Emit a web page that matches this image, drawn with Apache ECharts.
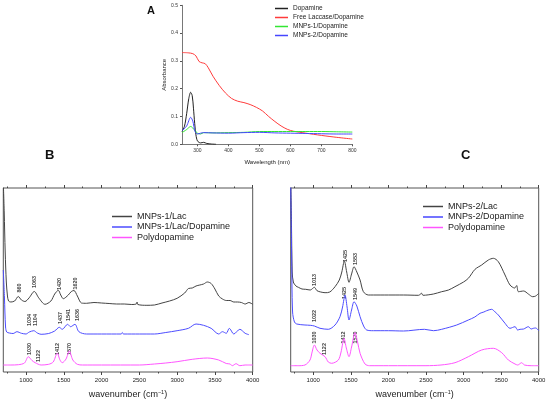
<!DOCTYPE html>
<html>
<head>
<meta charset="utf-8">
<title>UV-Vis and FTIR spectra</title>
<script src="https://cdn.jsdelivr.net/npm/echarts@6/dist/echarts.min.js"></script>
<style>html,body{margin:0;padding:0;background:#fff;}</style>
</head>
<body>
<div id="main" style="width:550px;height:404px;"></div>
<script type="text/javascript">
// panel A: UV-Vis, [wavelength nm, absorbance]
var dopamineA = [[250,0.046],[258,0.065],[265,0.11],[272,0.165],[278,0.187],[283,0.175],[287,0.13],[291,0.075],[295,0.034],[300,0.012],[310,0.005],[320,0.007],[330,0.003],[345,0.001],[360,0]];
var laccaseA = [[250,0.33],[270,0.329],[285,0.326],[295,0.318],[305,0.298],[315,0.293],[325,0.29],[335,0.275],[350,0.245],[370,0.212],[390,0.185],[410,0.165],[430,0.155],[450,0.15],[470,0.143],[490,0.133],[510,0.12],[530,0.1],[550,0.082],[570,0.066],[590,0.054],[610,0.047],[650,0.04],[700,0.032],[750,0.025],[800,0.019]];
var mnps1A = [[250,0.042],[265,0.053],[278,0.064],[290,0.052],[300,0.04],[310,0.037],[320,0.042],[350,0.041],[400,0.042],[450,0.043],[500,0.046],[550,0.046],[600,0.046],[650,0.046],[700,0.046],[750,0.045],[800,0.044]];
var mnps2A = [[250,0.049],[265,0.066],[278,0.097],[285,0.083],[292,0.046],[300,0.037],[310,0.04],[320,0.042],[350,0.041],[400,0.04],[450,0.042],[500,0.043],[550,0.041],[600,0.04],[650,0.039],[700,0.038],[750,0.037],[800,0.037]];

// panel B: FTIR, [wavenumber, offset intensity]
var lac1B = [[700,190],[712,160],[725,120],[740,90],[755,76],[770,71],[800,70],[850,71],[898,75.5],[940,72],[987,70.5],[1040,74],[1110,80.5],[1170,74],[1252,67.7],[1330,71],[1380,78],[1428,81.7],[1460,77],[1494,73.3],[1560,77],[1600,80.5],[1635,81.5],[1680,76],[1734,69],[1800,68.7],[1900,69.5],[2000,69],[2100,68.5],[2200,68],[2300,68],[2400,67.5],[2460,68],[2470,70],[2480,67.5],[2600,66.7],[2700,67],[2800,69],[2900,71],[3000,73.7],[3100,79],[3150,83.5],[3200,84],[3250,86],[3300,87],[3350,88],[3400,90],[3450,88.5],[3500,83],[3550,76],[3600,73],[3650,71.5],[3700,71.5],[3750,70],[3800,70],[3850,69.5],[3900,68],[3950,69.5],[4000,67.7]];
var dop1B = [[700,102],[715,75],[730,45],[745,40],[780,39],[830,38.5],[880,40.3],[940,38.7],[1000,38],[1044,40],[1104,41.3],[1150,39],[1200,37.7],[1300,38.5],[1380,41],[1441,44.7],[1480,42.7],[1551,47.7],[1590,45.3],[1648,47.7],[1700,40.3],[1800,38],[2000,38],[2260,38],[2275,39.5],[2290,38],[2500,38],[2700,38],[2850,39.5],[3000,41.3],[3150,43.7],[3250,48],[3350,46.7],[3450,43.7],[3550,38],[3600,40.3],[3650,38.7],[3691,43.7],[3750,38],[3830,42.7],[3900,38.7],[3950,37.3]];
var pdaB = [[700,7],[800,7],[900,7.3],[980,9],[1031,15.3],[1080,11.5],[1122,9.3],[1200,7],[1300,7.7],[1360,10],[1414,18.7],[1450,12],[1480,9.3],[1530,13],[1573,21],[1620,12],[1680,7.7],[1750,7],[2000,7],[2500,7],[2700,8],[2850,9],[3000,10.3],[3200,12.7],[3400,14],[3550,12],[3650,8.5],[3700,8],[3730,6.3],[3780,8.3],[3830,6.3],[3900,7],[4000,7]];

// panel C
var lac2C = [[700,190],[710,150],[720,100],[735,90],[770,86],[802,84.7],[850,83],[900,82.7],[960,82],[1015,84.7],[1050,81.3],[1100,80],[1157,79.3],[1220,80],[1290,85.3],[1347,92],[1380,100],[1414,111],[1445,100],[1476,89.7],[1510,98],[1543,105.3],[1580,100],[1623,92],[1667,80.3],[1733,77],[1800,77],[2000,77],[2200,77],[2400,76.7],[2443,78.7],[2460,76.7],[2600,78],[2709,80.3],[2800,82],[2886,85.3],[3000,90],[3064,93.7],[3153,102.7],[3241,107],[3330,112],[3397,113.7],[3463,110.3],[3552,97],[3618,87],[3680,84],[3707,86.5],[3730,80.3],[3800,81],[3862,78],[3920,75.3],[3960,76],[4000,78.7]];
var dop2C = [[700,190],[712,120],[725,60],[750,50],[780,48],[890,47],[960,46.7],[1015,46],[1090,43.7],[1200,42.7],[1290,47],[1356,55.3],[1390,65],[1423,77],[1450,65],[1476,52],[1510,62],[1543,70.3],[1580,66],[1623,55.3],[1670,46],[1711,42],[1800,41.3],[2000,41.3],[2200,41],[2480,42.7],[2600,41.3],[2709,42.7],[2909,47],[3064,52],[3150,55],[3219,58.7],[3270,60],[3308,61.3],[3374,62.7],[3420,60],[3463,57],[3552,48.7],[3618,43.7],[3685,45.3],[3720,42],[3752,42.7],[3800,43],[3862,45.3],[3900,43],[3929,43.7],[3960,44],[4000,41.3]];
var pdaC = [[700,6.3],[800,6.3],[890,7],[957,12],[985,20],[1015,27],[1050,22],[1090,18.7],[1157,15.3],[1200,10],[1245,8.7],[1334,12],[1370,20],[1410,33.7],[1440,24],[1476,15.3],[1510,25],[1556,39.3],[1590,30],[1623,18.7],[1689,8],[1750,6.3],[2000,6.3],[2500,6.3],[2700,7],[2886,9.3],[3064,15.3],[3241,22],[3397,23.7],[3508,19.3],[3596,12],[3685,8],[3720,7],[3774,9.3],[3810,7],[3900,6.3],[4000,6.3]];

// peak labels [wavenumber, height, text]
var peaksB = [[908,84,'860'],[1110,90,'1063'],[1441,88,'1420'],[1649,88.5,'1620'],
              [1053,52,'1034'],[1129,52,'1104'],[1459,54,'1437'],[1560,57,'1541'],[1679,57,'1636'],
              [1044,23,'1030'],[1163,16,'1122'],[1414,23,'1412'],[1573,23,'1570']];
var peaksC = [[1023,92,'1013'],[1423,116,'1425'],[1556,113,'1553'],
              [1023,56,'1022'],[1414,79,'1425'],[1556,78,'1549'],
              [1014,34.5,'1030'],[1147,23,'1122'],[1400,34.5,'1412'],[1556,34.5,'1570']];

var uvTicks = [300, 400, 500, 600, 700, 800];
var irTicks = [1000, 1500, 2000, 2500, 3000, 3500, 4000];
var irMinor = [750, 1250, 1750, 2250, 2750, 3250, 3750];

var myChart = echarts.init(document.getElementById('main'));
var FONT = '"Liberation Sans", Arial, sans-serif';
var plain = function (v) { return String(v); };

function irAxes(g) {
    var base = {type: 'value', gridIndex: g, min: 700, max: 4000,
        axisLine: {show: false}, splitLine: {show: false}};
    return [
        echarts.util.merge({
            position: 'bottom',
            axisTick: {customValues: irTicks, length: 3, lineStyle: {color: '#444'}},
            axisLabel: {customValues: irTicks, fontSize: 6, margin: 5, color: '#222', fontFamily: FONT, formatter: plain},
            name: 'wavenumber (cm{s|\u22121})', nameLocation: 'middle', nameGap: 17,
            nameTextStyle: {fontSize: 9, color: '#222', fontFamily: FONT,
                rich: {s: {fontSize: 5.5, padding: [0, 0, 6, 0], fontFamily: FONT, color: '#222'}}}
        }, base, true),
        echarts.util.merge({position: 'bottom',
            axisTick: {customValues: irMinor, length: 1.5, lineStyle: {color: '#444'}},
            axisLabel: {show: false}}, base, true),
        echarts.util.merge({position: 'top',
            axisTick: {customValues: irTicks, length: 3, lineStyle: {color: '#444'}},
            axisLabel: {show: false}}, base, true),
        echarts.util.merge({position: 'top',
            axisTick: {customValues: irMinor, length: 1.5, lineStyle: {color: '#444'}},
            axisLabel: {show: false}}, base, true)
    ];
}

function spec(name, data, color, xi, yi) {
    return {name: name, type: 'line', data: data, xAxisIndex: xi, yAxisIndex: yi,
        symbol: 'none', smooth: 0.3, lineStyle: {width: 1, color: color}, itemStyle: {color: color}};
}

function peakLabels(list, xi, yi) {
    return {type: 'scatter', name: 'peaks', xAxisIndex: xi, yAxisIndex: yi, symbolSize: 0, silent: true,
        data: list.map(function (p) { return {value: [p[0], p[1]], name: p[2]}; }),
        label: {show: true, position: 'inside', rotate: 90, formatter: '{b}',
            fontSize: 5.5, fontWeight: 'bold', color: '#111', fontFamily: FONT}};
}

var legendText = {fontFamily: FONT, color: '#222'};

var option = {
    animation: false,
    textStyle: {fontFamily: FONT},
    graphic: [
        {type: 'text', left: 147, top: 5, style: {text: 'A', font: 'bold 11px ' + FONT, fill: '#111'}},
        {type: 'text', left: 45, top: 149, style: {text: 'B', font: 'bold 13px ' + FONT, fill: '#111'}},
        {type: 'text', left: 461, top: 149, style: {text: 'C', font: 'bold 13px ' + FONT, fill: '#111'}}
    ],
    legend: [
        {orient: 'vertical', left: 270, top: 0, icon: 'rect', itemWidth: 13, itemHeight: 1.5, itemGap: 2,
         textStyle: echarts.util.extend({fontSize: 6.5}, legendText),
         data: ['Dopamine', 'Free Laccase/Dopamine', 'MNPs-1/Dopamine', 'MNPs-2/Dopamine']},
        {orient: 'vertical', left: 107, top: 207, icon: 'rect', itemWidth: 20, itemHeight: 1.5, itemGap: 1.5,
         textStyle: echarts.util.extend({fontSize: 9}, legendText),
         data: ['MNPs-1/Lac', 'MNPs-1/Lac/Dopamine', 'Polydopamine']},
        {orient: 'vertical', left: 418, top: 197, icon: 'rect', itemWidth: 20, itemHeight: 1.5, itemGap: 1.5,
         textStyle: echarts.util.extend({fontSize: 9}, legendText),
         data: ['MNPs-2/Lac', 'MNPs-2/Dopamine', 'Polydopamine']}
    ],
    grid: [
        {left: 182, top: 5.3, width: 170.3, height: 139},
        {left: 3.3, top: 188, width: 249.4, height: 184, show: true, borderColor: '#555', borderWidth: 1},
        {left: 290.7, top: 188, width: 248, height: 184, show: true, borderColor: '#555', borderWidth: 1}
    ],
    xAxis: [
        {type: 'value', gridIndex: 0, min: 250, max: 800,
         axisLine: {lineStyle: {color: '#555', width: 0.8}},
         axisTick: {customValues: uvTicks, length: 2, lineStyle: {color: '#555'}},
         axisLabel: {customValues: uvTicks, fontSize: 5, margin: 4, color: '#333'},
         splitLine: {show: false},
         name: 'Wavelength (nm)', nameLocation: 'middle', nameGap: 15,
         nameTextStyle: {fontSize: 6, color: '#222'}}
    ].concat(irAxes(1)).concat(irAxes(2)),
    yAxis: [
        {type: 'value', gridIndex: 0, min: 0, max: 0.5, interval: 0.1,
         axisLine: {show: true, lineStyle: {color: '#555', width: 0.8}},
         axisTick: {show: true, length: 2, lineStyle: {color: '#555'}},
         axisLabel: {fontSize: 5, margin: 4, color: '#333', formatter: function (v) { return v.toFixed(1); }},
         splitLine: {show: false},
         name: 'Absorbance', nameLocation: 'middle', nameGap: 15,
         nameTextStyle: {fontSize: 6, color: '#222'}},
        {type: 'value', gridIndex: 1, min: 0, max: 184, show: false},
        {type: 'value', gridIndex: 2, min: 0, max: 184, show: false}
    ],
    series: [
        spec('Dopamine', dopamineA, '#222222', 0, 0),
        spec('Free Laccase/Dopamine', laccaseA, '#ff3b3b', 0, 0),
        spec('MNPs-1/Dopamine', mnps1A, '#33e633', 0, 0),
        spec('MNPs-2/Dopamine', mnps2A, '#4646ff', 0, 0),
        spec('MNPs-1/Lac', lac1B, '#444444', 1, 1),
        spec('MNPs-1/Lac/Dopamine', dop1B, '#4c4cff', 1, 1),
        spec('Polydopamine', pdaB, '#ff55ff', 1, 1),
        peakLabels(peaksB, 1, 1),
        spec('MNPs-2/Lac', lac2C, '#444444', 5, 2),
        spec('MNPs-2/Dopamine', dop2C, '#4c4cff', 5, 2),
        spec('Polydopamine', pdaC, '#ff55ff', 5, 2),
        peakLabels(peaksC, 5, 2)
    ]
};
myChart.setOption(option);
</script>
</body>
</html>
